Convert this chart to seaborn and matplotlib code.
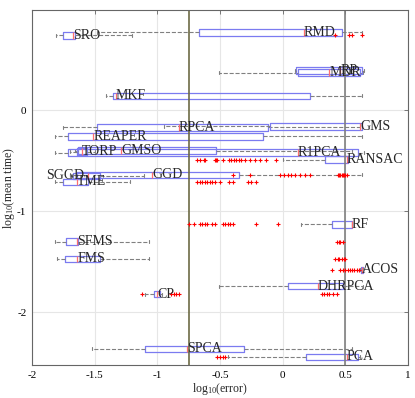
import matplotlib
matplotlib.use("Agg")
import matplotlib.pyplot as plt
import seaborn as sns
import pandas as pd

# one horizontal box per method, placed at log10(mean time)
methods = ["SRO", "RMD", "MDR", "RP", "MKF", "RPCA", "GMS", "REAPER", "GMSO", "TORP",
           "R1PCA", "RANSAC", "SGGD", "GGD", "TME", "RF", "SFMS", "FMS", "ACOS",
           "DHRPCA", "CP", "SPCA", "PCA"]
mean_time = [0.74, 0.77, 0.37, 0.39, 0.14, -0.17, -0.16, -0.26, -0.40, -0.41,
             -0.42, -0.49, -0.65, -0.64, -0.71, -1.13, -1.30, -1.47, -1.58,
             -1.74, -1.82, -2.36, -2.44]
whis_lo = [-1.81, -1.48, -0.51, 0.10, -1.41, -1.75, -0.95, -1.82, -1.66, -1.70,
           -1.82, 0.00, -1.70, -1.70, -1.82, 0.15, -1.82, -1.80, 0.62,
           -0.51, -1.10, -1.52, -0.44]
q1 = [-1.75, -0.67, 0.12, 0.11, -1.35, -1.48, -0.10, -1.71, -1.63, -1.64,
      -1.71, 0.34, -1.67, -1.64, -1.75, 0.39, -1.73, -1.74, 0.625,
      0.04, -1.03, -1.10, 0.19]
median = [-1.67, 0.17, 0.37, 0.46, -1.33, -0.83, 0.62, -1.51, -1.29, -1.60,
          0.12, 0.51, -1.55, -1.04, -1.64, 0.55, -1.64, -1.64, 0.63,
          0.28, -1.00, -0.76, 0.51]
q3 = [-1.66, 0.47, 0.62, 0.63, 0.22, -0.12, 0.63, -0.16, -0.53, -1.56,
      0.60, 0.52, -1.46, -0.35, -1.55, 0.55, -1.63, -1.46, 0.64,
      0.48, -0.98, -0.31, 0.60]
whis_hi = [-1.20, 0.63, 0.64, 0.65, 0.63, 0.63, 0.63, 0.63, 0.55, -1.50,
           0.65, 0.53, -1.11, 0.63, -1.22, 0.55, -1.07, -1.07, 0.64,
           0.64, -0.96, 0.55, 0.62]
label_x = [-1.67, 0.17, 0.37, 0.46, -1.33, -0.83, 0.62, -1.51, -1.29, -1.60,
           0.12, 0.51, -1.89, -1.04, -1.64, 0.55, -1.64, -1.64, 0.63,
           0.28, -1.00, -0.76, 0.51]

outliers = {
    "SRO": [0.42, 0.53, 0.55, 0.63],
    "RANSAC": [-0.68, -0.66, -0.63, -0.62, -0.54, -0.53, -0.52, -0.48, -0.43, -0.41,
               -0.39, -0.37, -0.35, -0.33, -0.30, -0.26, -0.22, -0.18, -0.13, -0.05],
    "GGD": [-0.40, -0.26, -0.02, 0.01, 0.04, 0.07, 0.10, 0.14, 0.18, 0.22,
            0.44, 0.45, 0.46, 0.47, 0.48, 0.49, 0.50, 0.51],
    "TME": [-0.68, -0.66, -0.64, -0.62, -0.60, -0.58, -0.56, -0.54, -0.50, -0.43,
            -0.40, -0.28, -0.25, -0.21],
    "RF": [-0.75, -0.71, -0.66, -0.64, -0.62, -0.60, -0.56, -0.54, -0.48, -0.46,
           -0.44, -0.42, -0.40, -0.21, -0.04],
    "SFMS": [0.43, 0.45, 0.46, 0.48],
    "FMS": [0.42, 0.44, 0.45, 0.47, 0.49, 0.50],
    "ACOS": [0.39, 0.46, 0.48, 0.50, 0.52, 0.54, 0.55, 0.57, 0.59, 0.61],
    "CP": [-1.12, -0.89, -0.87, -0.85, -0.83, 0.31, 0.33, 0.35, 0.37, 0.40, 0.43],
    "PCA": [-0.52, -0.50, -0.48, -0.46],
}

x_ticks = [-2, -1.5, -1, -0.5, 0, 0.5, 1]
x_ticklabels = ["-2", "-1.5", "-1", "-0.5", "0", "0.5", "1"]
y_ticks = [-2, -1, 0]
y_ticklabels = ["-2", "-1", "0"]
ref_lines = [-0.75, 0.5]

sns.set_style("whitegrid", rc={
    "grid.color": "#e6e6e6",
    "grid.linewidth": 0.6,
    "axes.edgecolor": "#666666",
    "axes.linewidth": 0.8,
})
plt.rcParams["font.family"] = ["Liberation Serif", "DejaVu Serif"]
plt.rcParams["mathtext.default"] = "regular"
plt.rcParams["axes.unicode_minus"] = False

fig = plt.figure(figsize=(4.15, 3.98), dpi=100)
ax = fig.add_axes([32 / 415, 1 - 365 / 398, 376 / 415, 355 / 398])

stats = []
for i, m in enumerate(methods):
    stats.append(dict(label=m, whislo=whis_lo[i], q1=q1[i], med=median[i],
                      q3=q3[i], whishi=whis_hi[i], fliers=[]))

kw = dict(positions=mean_time, widths=0.065, showfliers=False, manage_ticks=False,
          boxprops=dict(color="#7b7bf0", lw=0.9),
          medianprops=dict(color="#ff6f6f", lw=0.9),
          whiskerprops=dict(color="#808080", ls="--", lw=0.8),
          capprops=dict(color="#808080", lw=0.8), capwidths=0.03)
try:
    ax.bxp(stats, orientation="horizontal", **kw)
except TypeError:
    ax.bxp(stats, vert=False, **kw)

out = pd.DataFrame([(x, mean_time[methods.index(m)]) for m, xs in outliers.items() for x in xs],
                   columns=["err", "time"])
sns.scatterplot(data=out, x="err", y="time", marker="+", s=11, color="red",
                linewidth=0.8, ax=ax, zorder=3)

ax.axvline(ref_lines[0], color="#6d6b45", lw=1.2, zorder=2.5)
ax.axvline(ref_lines[1], color="#7f7f7f", lw=1.2, zorder=2.5)

for i, m in enumerate(methods):
    ax.text(label_x[i], mean_time[i], m, ha="left", va="center", fontsize=10, zorder=4)

ax.set_xlim(-2, 1)
ax.set_ylim(-2.52, 0.99)
ax.set_xticks(x_ticks)
ax.set_xticklabels(x_ticklabels)
ax.set_yticks(y_ticks)
ax.set_yticklabels(y_ticklabels)
ax.tick_params(direction="in", top=True, right=True, length=3, width=0.6,
               labelsize=8, colors="#666666", labelcolor="black", pad=4)
ax.set_xlabel("log$_{10}$(error)", fontsize=8.5, labelpad=1)
ax.set_ylabel("log$_{10}$(mean time)", fontsize=8.5, labelpad=0)

fig.savefig("out.png", dpi=100)
